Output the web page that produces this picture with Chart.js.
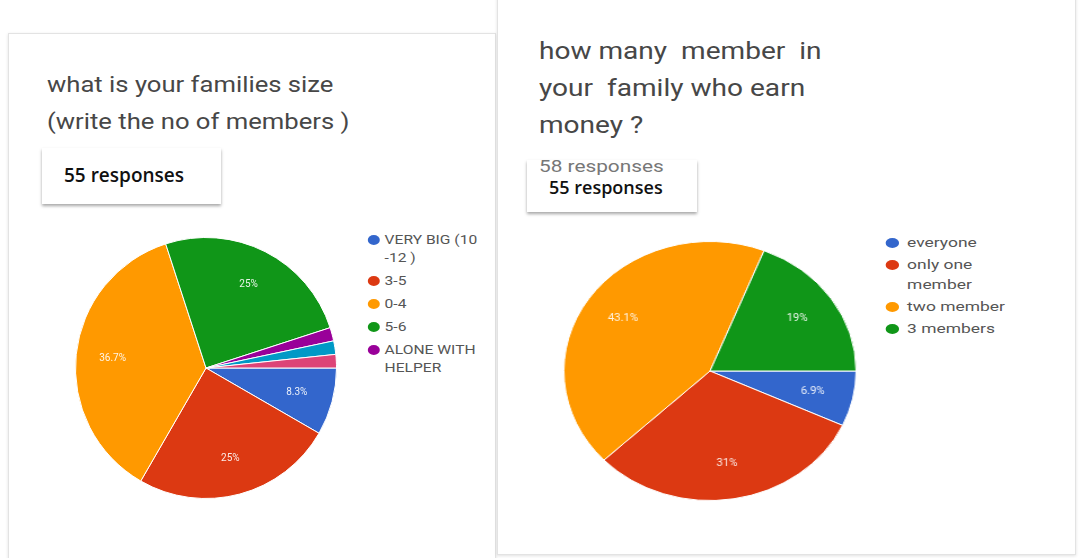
<!DOCTYPE html>
<html>
<head>
<meta charset="utf-8">
<script src="https://cdn.jsdelivr.net/npm/chart.js@4.4.0/dist/chart.umd.min.js"></script>
<style>
  body { margin: 0; width: 1079px; height: 558px; background: #fff; overflow: hidden; font-family: Roboto, Arial, sans-serif; position: relative; }
  .card { position: absolute; background: #fff; border: 1px solid #e3e3e3; box-shadow: 0 1px 3px rgba(0,0,0,0.12); }
  #cardL { left: 8px; top: 33px; width: 486px; height: 540px; }
  #cardR { left: 497px; top: -10px; width: 577px; height: 563px; }
  .title { position: absolute; color: #474747; line-height: 37px; white-space: nowrap; transform-origin: left center; }
  .resp { position: absolute; background: #fff; box-shadow: 0 2px 3px rgba(0,0,0,0.35); }
  .resp span { position: absolute; white-space: nowrap; transform-origin: left center; }
  canvas { position: absolute; }
  .legend { position: absolute; color: #555; transform-origin: left top; }
  .legend .item { position: relative; }
  .legend .dot { position: absolute; left: -1px; border-radius: 50%; }
</style>
</head>
<body>
<div class="card" id="cardL"></div>
<div class="card" id="cardR"></div>

<div class="title" style="left:47px; top:66px; font-size:22px; transform:scaleX(1.165);">what is your families size<br>(write the no of members )</div>
<div class="resp" style="left:42px; top:148px; width:179px; height:56px;">
  <span style="left:22px; top:14px; font-family:'Open Sans'; font-weight:600; font-size:19px; color:#111;">55 responses</span>
</div>

<div class="title" style="left:539px; top:33px; font-size:23px; transform:scaleX(1.22);">how many&nbsp; member&nbsp; in<br>your&nbsp; family who earn<br>money ?</div>
<div class="resp" style="left:527px; top:160px; width:170px; height:52px;">
  <span style="left:12px; top:-3px; font-size:16px; color:#777; transform:scaleX(1.3);">58 responses</span>
  <span style="left:22px; top:15px; font-family:'Open Sans'; font-weight:600; font-size:18px; color:#111;">55 responses</span>
</div>

<canvas id="famSize" width="262" height="262" style="left:75px; top:237px;"></canvas>
<canvas id="earners" width="260" height="260" style="left:580px; top:241px; transform:scaleX(1.128); transform-origin:center;"></canvas>

<div class="legend" id="legendL" style="left:369px; top:231px; width:95px; font-size:13px; line-height:18px; transform:scaleX(1.2);"></div>
<div class="legend" id="legendR" style="left:887px; top:233px; width:92px; font-size:13px; line-height:20px; transform:scaleX(1.34);"></div>

<script>
// family size question
var sizeLabels = ['VERY BIG (10 -12 )', '3-5', '0-4', '5-6', 'ALONE WITH HELPER', '7-9', '1-2'];
var sizeCounts = [5, 15, 22, 15, 1, 1, 1];
var sizeColors = ['#3366cc', '#dc3912', '#ff9900', '#109618', '#990099', '#0099c6', '#dd4477'];

// earning members question
var earnLabels = ['everyone', 'only one member', 'two member', '3 members'];
var earnCounts = [4, 18, 25, 11];
var earnColors = ['#3366cc', '#dc3912', '#ff9900', '#109618'];

function pctText(counts) {
  var total = counts.reduce((a, b) => a + b, 0);
  return counts.map(function(c) {
    if (c / total < 0.05) return '';
    return (c / total * 100).toFixed(1).replace(/\.0$/, '') + '%';
  });
}

// white percentage text inside each slice
var sliceLabels = {
  id: 'sliceLabels',
  afterDatasetsDraw: function(chart, args, opts) {
    var ctx = chart.ctx;
    var meta = chart.getDatasetMeta(0);
    ctx.save();
    ctx.font = '10px Roboto, Arial, sans-serif';
    ctx.fillStyle = 'rgba(255,255,255,0.9)';
    ctx.textAlign = 'center';
    ctx.textBaseline = 'middle';
    meta.data.forEach(function(arc, i) {
      var txt = opts.texts[i];
      if (!txt) return;
      var p = arc.getProps(['x', 'y', 'startAngle', 'endAngle', 'outerRadius'], true);
      var mid = (p.startAngle + p.endAngle) / 2;
      var r = p.outerRadius * 0.72;
      ctx.fillText(txt, p.x + Math.cos(mid) * r, p.y + Math.sin(mid) * r);
    });
    ctx.restore();
  }
};

function makePie(id, labels, counts, colors) {
  return new Chart(document.getElementById(id), {
    type: 'pie',
    data: {
      labels: labels,
      datasets: [{
        data: counts,
        backgroundColor: colors,
        borderColor: '#fff',
        borderWidth: 1
      }]
    },
    options: {
      responsive: false,
      animation: false,
      rotation: 90,
      layout: { padding: 0 },
      plugins: {
        legend: { display: false },
        tooltip: { enabled: false },
        sliceLabels: { texts: pctText(counts) }
      }
    },
    plugins: [sliceLabels]
  });
}

// legend next to the pie, only the first `shown` entries fit on the page
function makeLegend(id, labels, colors, shown, dotSize, indent, gap) {
  var box = document.getElementById(id);
  for (var i = 0; i < shown; i++) {
    var item = document.createElement('div');
    item.className = 'item';
    item.style.paddingLeft = indent + 'px';
    item.style.marginBottom = gap + 'px';
    var dot = document.createElement('span');
    dot.className = 'dot';
    dot.style.width = dotSize + 'px';
    dot.style.height = dotSize + 'px';
    dot.style.top = ((parseFloat(box.style.lineHeight) - dotSize) / 2) + 'px';
    dot.style.background = colors[i];
    item.appendChild(dot);
    item.appendChild(document.createTextNode(labels[i]));
    box.appendChild(item);
  }
}

makePie('famSize', sizeLabels, sizeCounts, sizeColors);
makePie('earners', earnLabels, earnCounts, earnColors);
makeLegend('legendL', sizeLabels, sizeColors, 5, 10, 13, 5);
makeLegend('legendR', earnLabels, earnColors, 4, 10, 15, 2);
</script>
</body>
</html>
